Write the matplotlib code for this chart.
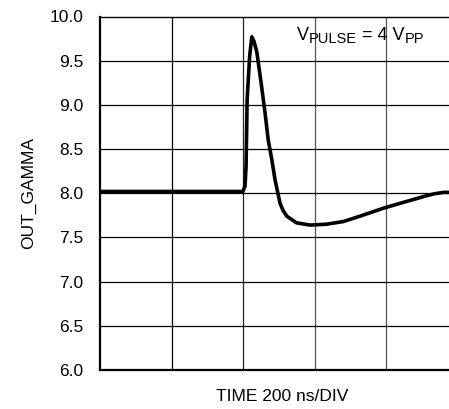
import matplotlib
matplotlib.use("Agg")
import matplotlib.pyplot as plt
from matplotlib.transforms import IdentityTransform

plt.rcParams['font.family'] = ['Liberation Sans', 'DejaVu Sans']

# data (time in ns, output gamma)
time_ns = [0, 399, 405, 408, 411, 418, 424, 430, 438, 450, 461, 470, 480, 489, 503, 512, 522,
           549, 587, 633, 680, 726, 791, 850, 885, 910, 935, 960, 1000]
out_gamma = [8.02, 8.02, 8.08, 8.30, 9.06, 9.55, 9.77, 9.72, 9.60, 9.25, 8.91, 8.60, 8.38, 8.15,
             7.885, 7.80, 7.74, 7.665, 7.64, 7.65, 7.68, 7.74, 7.83, 7.90, 7.94, 7.97, 7.995, 8.01, 8.01]
y_ticks = [6.0, 6.5, 7.0, 7.5, 8.0, 8.5, 9.0, 9.5, 10.0]
x_grid = [200, 400, 600, 800]

FS = 12.5

fig = plt.figure(figsize=(4.49, 4.09), dpi=100)
ax = fig.add_axes([100/449, 1-370/409, 358/449, (370-16.5)/409])

ax.set_xlim(0, 1000)
ax.set_ylim(6.0, 10.0)
ax.set_yticks(y_ticks)
ax.set_yticklabels([f"{v:.1f}" for v in y_ticks])
ax.set_xticks([])
ax.tick_params(axis='y', length=0, pad=12, labelsize=FS)

grid_cols = ['black', '#222222', '#555555', '#555555']
for xv, c in zip(x_grid, grid_cols):
    ax.axvline(xv, color=c, lw=0.9, zorder=1)
for yv in y_ticks[1:-1]:
    ax.axhline(yv, color='black', lw=0.9, zorder=1)

for s in ['left', 'bottom']:
    ax.spines[s].set_linewidth(1.6)
ax.spines['top'].set_linewidth(1.0)

ax.plot(time_ns, out_gamma, color='black', lw=2.6, zorder=3,
        solid_joinstyle='round', solid_capstyle='round')

ax.set_ylabel('OUT_GAMMA', fontsize=FS)
ax.yaxis.set_label_coords(-64/358, 0.5)
ax.set_xlabel('TIME 200 ns/DIV', fontsize=FS)
ax.xaxis.set_label_coords(0.51, -19/353.5)

# annotation V_PULSE = 4 V_PP, built piece by piece
fig.canvas.draw()
renderer = fig.canvas.get_renderer()
x0, y0 = ax.transData.transform((550, 9.736))
parts = [('V', 13, 0), ('PULSE', 10.5, -3.3), (' = 4 V', 13, 0), ('PP', 10.5, -3.3)]
x = x0
for s, size, dy in parts:
    t = fig.text(x, y0 + dy, s, fontsize=size, ha='left', va='baseline',
                 transform=IdentityTransform(), zorder=5)
    x = t.get_window_extent(renderer).x1

fig.savefig('out.png', dpi=100)
